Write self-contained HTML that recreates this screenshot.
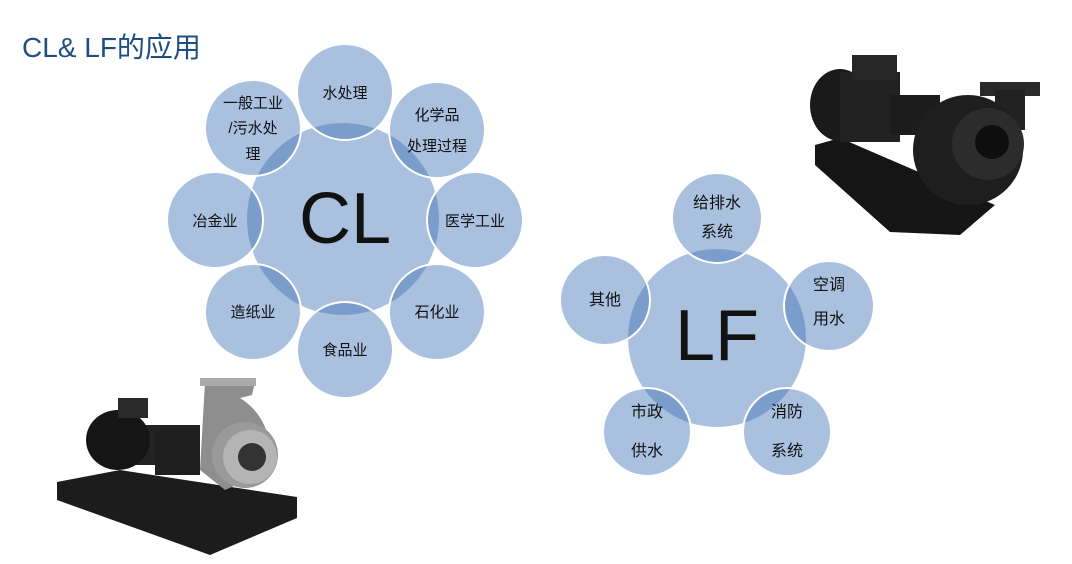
<!DOCTYPE html>
<html><head><meta charset="utf-8"><style>
html,body{margin:0;padding:0;background:#fff;}
body{width:1072px;height:564px;overflow:hidden;position:relative;font-family:"Liberation Sans","Noto Sans CJK SC",sans-serif;}
.t{position:absolute;left:22px;top:26px;font-size:28px;color:#1f4f82;font-family:"Liberation Sans","Noto Sans CJK SC",sans-serif;}
</style></head><body>
<svg width="1072" height="564" style="position:absolute;left:0;top:0" xmlns="http://www.w3.org/2000/svg">
<defs>
<clipPath id="c1"><circle cx="343" cy="219" r="96"/></clipPath>
<clipPath id="c2"><circle cx="717" cy="338" r="89"/></clipPath>
</defs>
<g font-family="Liberation Sans, Noto Sans CJK SC, sans-serif" fill="#a9c0df">
<!-- CL -->
<circle cx="343" cy="219" r="96"/>
<g id="s1">
<circle cx="345" cy="92" r="48"/><circle cx="437" cy="130" r="48"/><circle cx="475" cy="220" r="48"/><circle cx="437" cy="312" r="48"/>
<circle cx="345" cy="350" r="48"/><circle cx="253" cy="312" r="48"/><circle cx="215" cy="220" r="48"/><circle cx="253" cy="128" r="48"/>
</g>
<g clip-path="url(#c1)" fill="#7b9dcb">
<circle cx="345" cy="92" r="48"/><circle cx="437" cy="130" r="48"/><circle cx="475" cy="220" r="48"/><circle cx="437" cy="312" r="48"/>
<circle cx="345" cy="350" r="48"/><circle cx="253" cy="312" r="48"/><circle cx="215" cy="220" r="48"/><circle cx="253" cy="128" r="48"/>
</g>
<g fill="none" stroke="#fff" stroke-width="2">
<circle cx="345" cy="92" r="48"/><circle cx="437" cy="130" r="48"/><circle cx="475" cy="220" r="48"/><circle cx="437" cy="312" r="48"/>
<circle cx="345" cy="350" r="48"/><circle cx="253" cy="312" r="48"/><circle cx="215" cy="220" r="48"/><circle cx="253" cy="128" r="48"/>
</g>
<!-- LF -->
<circle cx="717" cy="338" r="89"/>
<circle cx="717" cy="218" r="45"/><circle cx="829" cy="306" r="45"/><circle cx="787" cy="432" r="44"/><circle cx="647" cy="432" r="44"/><circle cx="605" cy="300" r="45"/>
<g clip-path="url(#c2)" fill="#7b9dcb">
<circle cx="717" cy="218" r="45"/><circle cx="829" cy="306" r="45"/><circle cx="787" cy="432" r="44"/><circle cx="647" cy="432" r="44"/><circle cx="605" cy="300" r="45"/>
</g>
<g fill="none" stroke="#fff" stroke-width="2">
<circle cx="717" cy="218" r="45"/><circle cx="829" cy="306" r="45"/><circle cx="787" cy="432" r="44"/><circle cx="647" cy="432" r="44"/><circle cx="605" cy="300" r="45"/>
</g>
<g fill="#111" font-size="15" text-anchor="middle">
<text x="345" y="98">水处理</text>
<text x="437" y="120">化学品</text><text x="437" y="151">处理过程</text>
<text x="475" y="226">医学工业</text>
<text x="437" y="317">石化业</text>
<text x="345" y="355">食品业</text>
<text x="253" y="317">造纸业</text>
<text x="215" y="226">冶金业</text>
<text x="253" y="108">一般工业</text><text x="253" y="133">/污水处</text><text x="253" y="159">理</text>
<text x="717" y="208" font-size="16">给排水</text><text x="717" y="237" font-size="16">系统</text>
<text x="829" y="290" font-size="16">空调</text><text x="829" y="324" font-size="16">用水</text>
<text x="605" y="305" font-size="16">其他</text>
<text x="647" y="417" font-size="16">市政</text><text x="647" y="456" font-size="16">供水</text>
<text x="787" y="417" font-size="16">消防</text><text x="787" y="456" font-size="16">系统</text>
<text x="345" y="243" font-size="72">CL</text>
<text x="717" y="360" font-size="72">LF</text>
</g>
</g>
<!-- bottom-left pump -->
<polygon points="57,482 120,470 297,497 297,518 210,555 57,500" fill="#1c1c1c"/>
<rect x="110" y="425" width="90" height="40" fill="#222"/>
<ellipse cx="118" cy="440" rx="32" ry="30" fill="#151515"/>
<rect x="118" y="398" width="30" height="20" fill="#2a2a2a"/>
<rect x="155" y="430" width="45" height="45" fill="#1e1e1e"/>
<path d="M205,382 L255,382 L252,395 L240,398 Q275,420 270,470 L225,490 L200,470 Z" fill="#8e8e8e"/>
<circle cx="245" cy="455" r="33" fill="#9a9a9a"/>
<circle cx="250" cy="457" r="27" fill="#b4b4b4"/>
<circle cx="252" cy="457" r="14" fill="#333"/>
<rect x="200" y="378" width="56" height="8" fill="#aaa"/>
<!-- top-right pump -->
<polygon points="815,145 840,138 995,205 960,235 890,232 815,165" fill="#151515"/>
<ellipse cx="840" cy="105" rx="30" ry="36" fill="#1a1a1a"/>
<rect x="840" y="72" width="60" height="70" fill="#222"/>
<rect x="852" y="55" width="45" height="25" fill="#262626"/>
<rect x="890" y="95" width="50" height="40" fill="#1c1c1c"/>
<rect x="980" y="82" width="60" height="14" fill="#2a2a2a"/>
<rect x="995" y="90" width="30" height="40" fill="#222"/>
<circle cx="968" cy="150" r="55" fill="#1e1e1e"/>
<circle cx="988" cy="144" r="36" fill="#2c2c2c"/>
<circle cx="992" cy="142" r="17" fill="#0e0e0e"/>
</svg>
<div class="t">CL&amp; LF的应用</div>
</body></html>
